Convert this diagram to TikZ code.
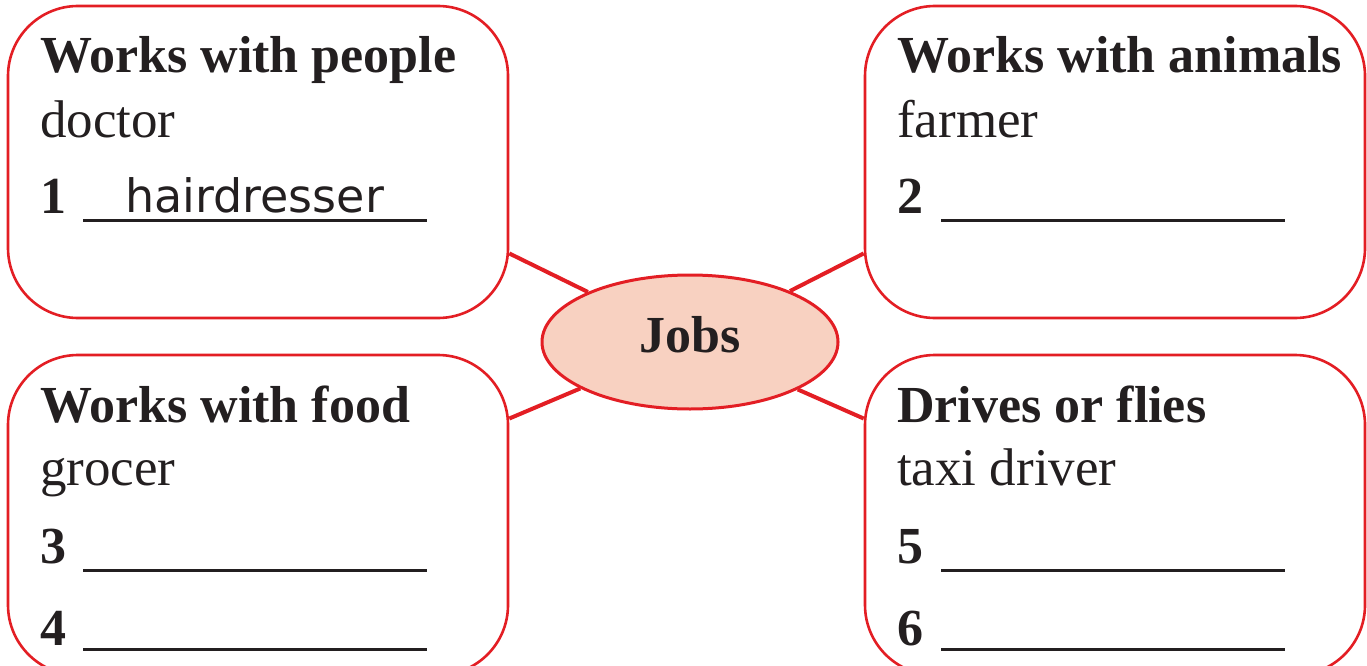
\documentclass[tikz,border=0pt]{standalone}
\usepackage{fontspec}
\setmainfont{Liberation Serif}
\newfontfamily\handfont{DejaVu Sans}
\usetikzlibrary{shapes.geometric}
\definecolor{boxred}{RGB}{227,30,36}
\definecolor{hubfill}{RGB}{248,209,193}
\definecolor{ink}{RGB}{35,31,32}

\begin{document}
\begin{tikzpicture}[x=1pt,y=-1pt,
    box/.style={draw=boxred,line width=2.6pt,rounded corners=70pt,minimum width=500pt,minimum height=312pt},
    hub/.style={ellipse,draw=boxred,fill=hubfill,line width=3pt,minimum width=296pt,minimum height=134pt,
      inner sep=0pt,font=\fontsize{52}{52}\selectfont\bfseries,text=ink,text height=20pt,text depth=0pt},
    head/.style={anchor=base west,inner sep=0pt,font=\fontsize{52}{52}\selectfont\bfseries,text=ink},
    item/.style={anchor=base west,inner sep=0pt,font=\fontsize{53}{53}\selectfont,text=ink},
    num/.style={anchor=base west,inner sep=0pt,font=\fontsize{52}{52}\selectfont\bfseries,text=ink},
    hand/.style={anchor=base west,inner sep=0pt,font=\fontsize{46}{46}\selectfont\handfont,text=ink},
    blank/.style={draw=ink,line width=3pt},
    spoke/.style={draw=boxred,line width=4pt}]
      \useasboundingbox (0,0) rectangle (1367,666);
      % the four boxes
      \node[box] (people)  at ( 258,162) {};
      \node[box] (animals) at (1115,162) {};
      \node[box,minimum height=320pt] (food)   at ( 258,515) {};
      \node[box,minimum height=320pt] (drives) at (1115,515) {};
      % centre
      \node[hub] (jobs) at (690,342) {Jobs};
      \draw[spoke] (people.-20)  -- (jobs);
      \draw[spoke] (animals.200) -- (jobs);
      \draw[spoke] (food.21)     -- (jobs);
      \draw[spoke] (drives.159)  -- (jobs);
      % works with people
      \node[head] (peoplehead) at (40,73)  {Works with people};
      \node[item] (doctor)     at (40,137) {doctor};
      \node[num]  (n1)         at (40,213) {1};
      \draw[blank] (83,220) -- (427,220);
      \node[hand] (answer)     at (125,212) {hairdresser};
      % works with animals
      \node[head] (animalshead) at (897,73)  {Works with animals};
      \node[item] (farmer)      at (897,137) {farmer};
      \node[num]  (n2)          at (897,213) {2};
      \draw[blank] (941,220) -- (1285,220);
      % works with food
      \node[head] (foodhead) at (40,422) {Works with food};
      \node[item] (grocer)   at (40,485) {grocer};
      \node[num]  (n3)       at (40,563) {3};
      \node[num]  (n4)       at (40,645) {4};
      \draw[blank] (83,570) -- (427,570);
      \draw[blank] (83,649) -- (427,649);
      % drives or flies
      \node[head] (driveshead) at (897,422) {Drives or flies};
      \node[item] (taxi)       at (897,485) {taxi driver};
      \node[num]  (n5)         at (897,563) {5};
      \node[num]  (n6)         at (897,645) {6};
      \draw[blank] (941,570) -- (1285,570);
      \draw[blank] (941,649) -- (1285,649);
\end{tikzpicture}
\end{document}
